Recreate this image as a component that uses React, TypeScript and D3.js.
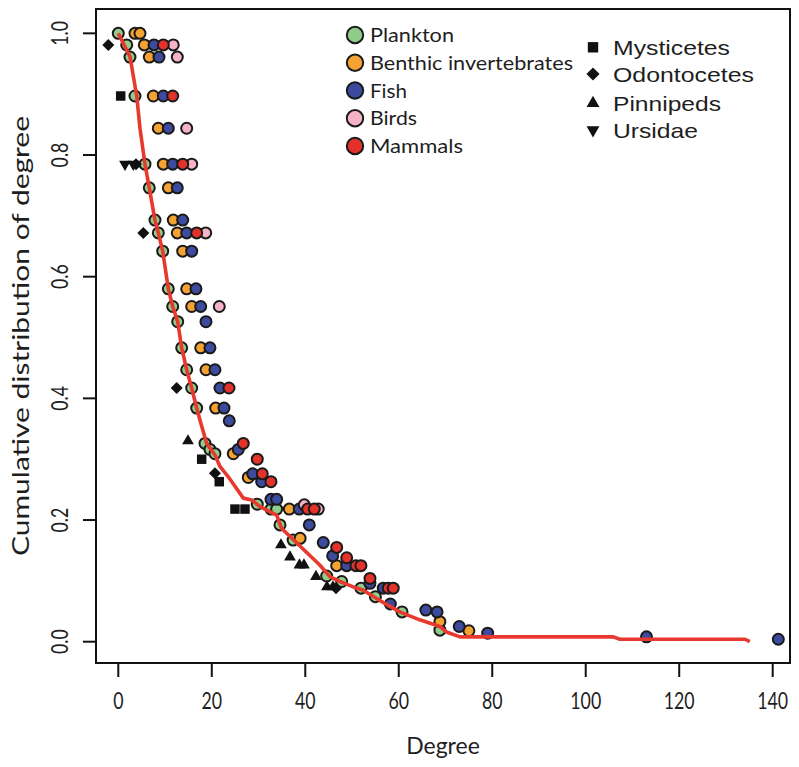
import * as d3 from "d3";

// Degree vs cumulative distribution, one array per group: [degree, cumulative]
const plankton: [number, number][] = [
  [0, 1.0], [1.8, 0.981], [2.5, 0.961], [3.57, 0.897], [5.71, 0.785], [6.63, 0.746],
  [7.85, 0.693], [8.56, 0.672], [9.5, 0.642], [10.7, 0.58], [11.64, 0.551], [12.71, 0.526],
  [13.56, 0.483], [14.63, 0.447], [15.7, 0.417], [16.77, 0.384], [18.55, 0.326], [19.61, 0.316],
  [20.68, 0.309], [29.73, 0.226], [32.66, 0.218], [33.88, 0.218], [34.59, 0.192], [37.4, 0.167],
  [44.58, 0.108], [47.79, 0.099], [51.91, 0.088], [55.0, 0.074], [60.7, 0.049], [68.8, 0.019],
];
const benthic: [number, number][] = [
  [3.57, 1.0], [4.64, 1.0], [5.56, 0.981], [6.63, 0.961], [7.49, 0.897], [8.56, 0.844],
  [9.63, 0.785], [10.7, 0.746], [11.76, 0.693], [12.62, 0.672], [13.78, 0.642], [14.63, 0.58],
  [15.7, 0.551], [17.63, 0.483], [18.76, 0.447], [20.83, 0.384], [24.6, 0.309], [27.81, 0.27],
  [36.58, 0.218], [38.9, 0.17], [46.72, 0.125], [68.8, 0.033], [75.0, 0.018],
];
const fish: [number, number][] = [
  [7.64, 0.981], [8.71, 0.961], [9.63, 0.897], [10.7, 0.844], [11.64, 0.785], [12.62, 0.746],
  [13.78, 0.693], [14.63, 0.672], [15.7, 0.642], [16.62, 0.58], [17.63, 0.551], [18.76, 0.526],
  [19.61, 0.483], [20.68, 0.447], [21.75, 0.417], [22.61, 0.384], [23.74, 0.363], [25.67, 0.316],
  [28.75, 0.276], [30.67, 0.263], [32.66, 0.234], [33.88, 0.234], [38.72, 0.218], [40.86, 0.192],
  [43.85, 0.163], [45.86, 0.141], [48.86, 0.125], [53.84, 0.096], [56.68, 0.088], [58.2, 0.062],
  [65.8, 0.052], [68.2, 0.049], [72.94, 0.025], [79.02, 0.014], [113.0, 0.008], [141.2, 0.004],
];
const birds: [number, number][] = [
  [11.76, 0.981], [12.62, 0.961], [14.63, 0.844], [15.7, 0.785], [18.7, 0.672], [21.6, 0.551],
  [39.79, 0.225], [42.78, 0.218],
];
const mammals: [number, number][] = [
  [9.63, 0.981], [11.64, 0.897], [13.78, 0.785], [16.77, 0.672], [23.68, 0.417], [26.74, 0.326],
  [29.73, 0.3], [30.8, 0.276], [32.66, 0.263], [40.51, 0.218], [41.93, 0.218], [46.72, 0.155],
  [48.86, 0.138], [50.84, 0.125], [51.91, 0.125], [53.84, 0.104], [57.75, 0.088], [58.82, 0.088],
];

const mysticetes: [number, number][] = [[0.51, 0.897], [17.84, 0.3], [21.6, 0.263], [24.96, 0.218], [27.1, 0.218]];
const odontocetes: [number, number][] = [[-2.14, 0.981], [3.79, 0.785], [5.35, 0.672], [12.49, 0.417], [20.68, 0.277], [46.57, 0.088]];
const pinnipeds: [number, number][] = [
  [14.91, 0.33], [34.8, 0.159], [36.73, 0.139], [38.76, 0.126], [39.72, 0.126], [42.29, 0.107],
  [44.64, 0.09], [45.93, 0.09],
];
const ursidae: [number, number][] = [[1.43, 0.785], [3.21, 0.785]];

// overall distribution (red line)
const overall: [number, number][] = [
  [0, 1.0], [2.5, 0.962], [3.94, 0.897], [4.64, 0.844], [5.71, 0.785], [6.63, 0.746],
  [7.85, 0.693], [8.56, 0.672], [9.5, 0.642], [10.7, 0.58], [11.64, 0.551], [12.71, 0.526],
  [13.56, 0.483], [14.63, 0.447], [15.7, 0.417], [16.77, 0.384], [17.48, 0.364], [18.91, 0.326],
  [20.68, 0.307], [21.75, 0.288], [23.53, 0.271], [26.74, 0.236], [28.54, 0.233], [30.31, 0.222],
  [33.88, 0.208], [34.95, 0.186], [43.1, 0.126], [45.25, 0.107], [47.39, 0.099], [50.27, 0.09],
  [52.3, 0.085], [55.9, 0.068], [60.2, 0.049], [64.5, 0.036], [68.8, 0.025], [70.2, 0.016],
  [73.1, 0.008], [105.9, 0.008], [107.3, 0.004], [134.1, 0.004], [135.1, 0.0],
];

const xTicks = [0, 20, 40, 60, 80, 100, 120, 140];
const yTicks = [0, 0.2, 0.4, 0.6, 0.8, 1.0];

const circleGroups = [
  { name: "Plankton", color: "#8fcd8b", data: plankton },
  { name: "Benthic invertebrates", color: "#f4a232", data: benthic },
  { name: "Fish", color: "#3c4b9d", data: fish },
  { name: "Birds", color: "#f4b4c6", data: birds },
  { name: "Mammals", color: "#e3322b", data: mammals },
];
const circleLegendWidths = [84, 203, 37, 47, 93];

const mammalGroups = [
  { name: "Mysticetes", shape: "square", data: mysticetes },
  { name: "Odontocetes", shape: "diamond", data: odontocetes },
  { name: "Pinnipeds", shape: "up", data: pinnipeds },
  { name: "Ursidae", shape: "down", data: ursidae },
];
const mammalLegendWidths = [117, 141, 108, 85];

const BOX = { left: 96, right: 790, top: 9, bottom: 663 };
const SANS = "Lato, 'Open Sans', sans-serif";

function symbolPath(shape: string, scale = 1): { d: string; rot: number } {
  if (shape === "square") return { d: d3.symbol(d3.symbolSquare, 90 * scale)()!, rot: 0 };
  if (shape === "diamond") return { d: d3.symbol(d3.symbolSquare, 72 * scale)()!, rot: 45 };
  if (shape === "up") return { d: d3.symbol(d3.symbolTriangle, 60 * scale)()!, rot: 0 };
  return { d: d3.symbol(d3.symbolTriangle, 60 * scale)()!, rot: 180 };
}

export default function App() {
  const x = d3.scaleLinear().domain([-4.77, 143.7]).range([BOX.left, BOX.right]);
  const y = d3.scaleLinear().domain([-0.035, 1.04]).range([BOX.bottom, BOX.top]);

  const line = d3
    .line<[number, number]>()
    .x((d) => x(d[0]))
    .y((d) => y(d[1]));

  return (
    <svg
      width={799}
      height={767}
      style={{ position: "absolute", left: 0, top: 0, background: "#fff" }}
    >
      {/* plot frame */}
      <rect
        x={BOX.left}
        y={BOX.top}
        width={BOX.right - BOX.left}
        height={BOX.bottom - BOX.top}
        fill="none"
        stroke="#111"
        strokeWidth={2}
      />

      {/* x axis */}
      {xTicks.map((t) => (
        <g key={"x" + t} transform={`translate(${x(t)},${BOX.bottom})`}>
          <line y1={0} y2={14} stroke="#111" strokeWidth={2} />
          <text
            y={46}
            transform="scale(0.74,1)"
            textAnchor="middle"
            fontFamily={SANS}
            fontSize={24}
            fill="#1e1e1e"
          >
            {t}
          </text>
        </g>
      ))}
      <text x={(BOX.left + BOX.right) / 2} y={754} textAnchor="middle" fontFamily={SANS} fontSize={23} fill="#1e1e1e">
        Degree
      </text>

      {/* y axis */}
      {yTicks.map((t) => (
        <g key={"y" + t} transform={`translate(${BOX.left},${y(t)})`}>
          <line x1={-13} x2={0} stroke="#111" strokeWidth={2} />
          <g transform="translate(-28,0) rotate(-90)">
            <text transform="scale(0.74,1)" textAnchor="middle" fontFamily={SANS} fontSize={24} fill="#1e1e1e">
              {t.toFixed(1)}
            </text>
          </g>
        </g>
      ))}
      <text
        transform={`translate(29,${(BOX.top + BOX.bottom) / 2}) rotate(-90)`}
        textAnchor="middle"
        fontFamily={SANS}
        fontSize={23}
        fill="#1e1e1e"
        textLength={440}
        lengthAdjust="spacingAndGlyphs"
      >
        Cumulative distribution of degree
      </text>

      {/* circles */}
      {circleGroups.map((g) =>
        g.data.map((d, i) => (
          <circle
            key={g.name + i}
            cx={x(d[0])}
            cy={y(d[1])}
            r={5.5}
            fill={g.color}
            stroke="#1a1a1a"
            strokeWidth={2}
          />
        )),
      )}

      {/* marine mammal symbols */}
      {mammalGroups.map((g) => {
        const s = symbolPath(g.shape);
        return g.data.map((d, i) => (
          <path
            key={g.name + i}
            d={s.d}
            transform={`translate(${x(d[0])},${y(d[1])}) rotate(${s.rot})`}
            fill="#111"
          />
        ));
      })}

      {/* overall distribution */}
      <path d={line(overall) ?? ""} fill="none" stroke="#e8392f" strokeWidth={3.6} strokeLinejoin="round" />

      {/* legend: groups */}
      {circleGroups.map((g, i) => {
        const cy = 35 + i * 27.75;
        return (
          <g key={"lg" + g.name}>
            <circle cx={355} cy={cy} r={8.2} fill={g.color} stroke="#1a1a1a" strokeWidth={2} />
            <text
              x={370}
              y={cy + 7}
              fontFamily={SANS}
              fontSize={20}
              fill="#1e1e1e"
              textLength={circleLegendWidths[i]}
              lengthAdjust="spacingAndGlyphs"
            >
              {g.name}
            </text>
          </g>
        );
      })}

      {/* legend: marine mammals */}
      {mammalGroups.map((g, i) => {
        const cy = [47.3, 74, 103.3, 130][i];
        const s = symbolPath(g.shape, 1.2);
        return (
          <g key={"lm" + g.name}>
            <path d={s.d} transform={`translate(593,${cy}) rotate(${s.rot})`} fill="#111" />
            <text
              x={613}
              y={cy + 7.5}
              fontFamily="'Liberation Sans', Arial, sans-serif"
              fontSize={21}
              fill="#1e1e1e"
              textLength={mammalLegendWidths[i]}
              lengthAdjust="spacingAndGlyphs"
            >
              {g.name}
            </text>
          </g>
        );
      })}
    </svg>
  );
}
